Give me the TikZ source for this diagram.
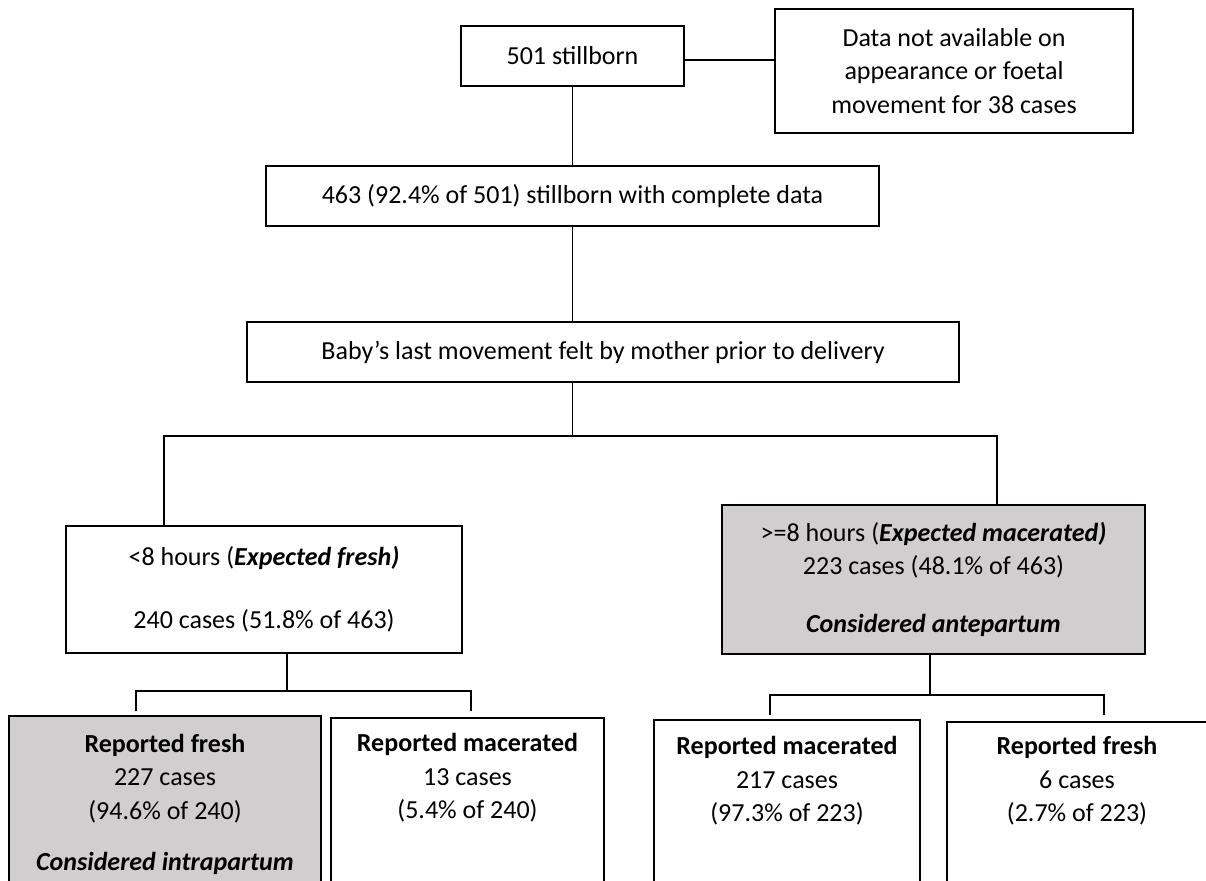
\documentclass[tikz,border=0pt]{standalone}
\usepackage{fontspec}
\setmainfont{Carlito}
\usepackage{xcolor}
\usepackage{tikz}
\definecolor{shade}{RGB}{208,206,206}
\tikzset{
  box/.style={draw=black, line width=1.1pt, align=center, inner sep=0pt},
  greybox/.style={box, fill=shade},
  leafbox/.style={anchor=north, text depth=1.5cm, inner ysep=0.21cm},
  link/.style={draw=black, line width=0.75pt},
}

\begin{document}
\begin{tikzpicture}[x=0.02cm, y=-0.02cm]
\tikzstyle{every node}+=[font=\fontsize{14.8}{19}\selectfont]
\clip (0,0) rectangle (1206,880);
\draw (572.5,56) node [box, minimum width=4.46cm, minimum height=1.2cm] (born) {501 stillborn};
\draw (954,71) node [box, minimum width=7.16cm, minimum height=2.48cm] (missing) {Data not available on\\appearance or foetal\\movement for 38 cases};
\draw (572.5,196) node [box, minimum width=12.26cm, minimum height=1.2cm] (complete) {463 (92.4\% of 501) stillborn with complete data};
\draw (603,352) node [box, minimum width=14.24cm, minimum height=1.2cm] (movement) {Baby’s last movement felt by mother prior to delivery};
\draw (264,589.5) node [box, minimum width=7.92cm, minimum height=2.54cm] (early) {<8 hours (\textbf{\textit{Expected fresh)}}\\[0.59cm]240 cases (51.8\% of 463)};
\draw (933.5,579.5) node [greybox, minimum width=8.46cm, minimum height=2.98cm] (late) {>=8 hours (\textbf{\textit{Expected macerated)}}\\223 cases (48.1\% of 463)\\[0.49cm]\textbf{\textit{Considered antepartum}}};
\draw (165,715) node [greybox, leafbox, minimum width=6.24cm, text height=2.89cm] (earlyfresh) {\textbf{Reported fresh}\\227 cases\\(94.6\% of 240)\\[0.37cm]\textbf{\textit{Considered intrapartum}}};
\draw (467.5,717) node [box, leafbox, minimum width=5.46cm, text height=1.8cm] (earlymac) {\textbf{Reported macerated}\\13 cases\\(5.4\% of 240)};
\draw (787,719) node [box, leafbox, minimum width=5.32cm, text height=1.82cm] (latemac) {\textbf{Reported macerated}\\217 cases\\(97.3\% of 223)};
\draw (1077,721) node [box, leafbox, minimum width=5.2cm, text height=1.78cm] (latefresh) {\textbf{Reported fresh}\\6 cases\\(2.7\% of 223)};
\coordinate (split) at (572.5,436);
\coordinate (lleg) at (164,436);
\coordinate (rleg) at (997,436);
\coordinate (esplit) at (287,691);
\coordinate (ftip) at (136,711);
\coordinate (gtip) at (471,711);
\coordinate (lsplit) at (930,695);
\coordinate (htip) at (770,715);
\coordinate (itip) at (1104,715);
\draw [link] ([yshift=-0.08cm]born.east) -- ([yshift=-0.08cm]born.east -| missing.west);
\draw [link] (born) -- (complete);
\draw [link] (complete.south) -- (complete.south |- movement.north);
\draw [link] (movement.south -| split) -- (split);
\draw [link] (early.north -| lleg) -- (lleg) -- (rleg) -- (late.north -| rleg);
\draw [link] (early.south -| esplit) -- (esplit);
\draw [link] (ftip) |- (esplit) -| (gtip);
\draw [link] (late.south -| lsplit) -- (lsplit);
\draw [link] (htip) |- (lsplit) -| (itip);
\end{tikzpicture}
\end{document}
